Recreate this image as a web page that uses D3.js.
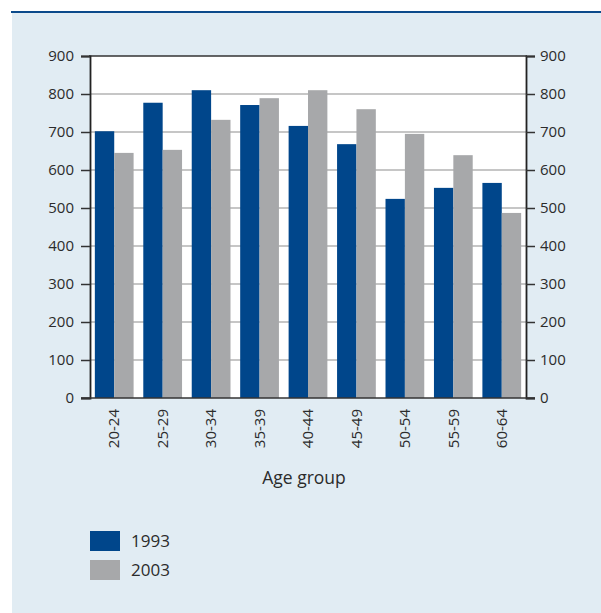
<!DOCTYPE html>
<html>
<head>
<meta charset="utf-8">
<script src="https://cdn.jsdelivr.net/npm/d3@7"></script>
<style>
  html, body { margin: 0; padding: 0; background: #ffffff; }
  svg { display: block; }
  text { font-family: "Open Sans", "Noto Sans", sans-serif; fill: #2b2b2b; }
</style>
</head>
<body>
<svg id="chart" width="601" height="613"></svg>
<script>
const categories = ["20-24","25-29","30-34","35-39","40-44","45-49","50-54","55-59","60-64"];
const values1993 = [702, 777, 810, 771, 716, 668, 524, 553, 566];
const values2003 = [645, 653, 732, 789, 810, 760, 695, 639, 487];
const seriesNames = ["1993", "2003"];
const seriesColors = ["#00468b", "#a7a8aa"];
const yTicks = [0, 100, 200, 300, 400, 500, 600, 700, 800, 900];
const xTitle = "Age group";

(function () {
const svg = d3.select("#chart");
const FONT = '"Open Sans", "Noto Sans", sans-serif';

// panel background and top rule
svg.append("rect").attr("x", 12).attr("y", 13).attr("width", 589).attr("height", 600).attr("fill", "#e1ecf3");
svg.append("rect").attr("x", 11).attr("y", 11).attr("width", 590).attr("height", 2).attr("fill", "#0b4a8b");

const pLeft = 90, pRight = 526, pTop = 56, pBottom = 398;

const y = d3.scaleLinear().domain([0, 900]).range([pBottom, pTop]);
const x0 = d3.scaleBand().domain(categories).range([pLeft, pRight]).paddingInner(0.2).paddingOuter(0.1);
const x1 = d3.scaleBand().domain(seriesNames).range([0, x0.bandwidth()]).padding(0);

// plot background
svg.append("rect").attr("x", pLeft).attr("y", pTop).attr("width", pRight - pLeft).attr("height", pBottom - pTop).attr("fill", "#ffffff");

// gridlines
svg.append("g").selectAll("line").data(yTicks.filter(d => d > 0 && d < 900)).join("line")
  .attr("x1", pLeft).attr("x2", pRight)
  .attr("y1", d => y(d)).attr("y2", d => y(d))
  .attr("stroke", "#c6c6c6").attr("stroke-width", 2);

// bars
const data = categories.map((c, i) => ({ cat: c, vals: [values1993[i], values2003[i]] }));
const groups = svg.append("g").selectAll("g").data(data).join("g")
  .attr("transform", d => `translate(${x0(d.cat)},0)`);
groups.selectAll("rect").data(d => d.vals.map((v, j) => ({ name: seriesNames[j], v, j }))).join("rect")
  .attr("x", d => x1(d.name))
  .attr("width", x1.bandwidth())
  .attr("y", d => y(d.v))
  .attr("height", d => y(0) - y(d.v))
  .attr("fill", d => seriesColors[d.j]);

// top frame line
svg.append("line").attr("x1", pLeft - 1).attr("x2", pRight + 1).attr("y1", pTop).attr("y2", pTop)
  .attr("stroke", "#333").attr("stroke-width", 1.5);

// axes
const yAxisL = d3.axisLeft(y).tickValues(yTicks).tickSize(9).tickPadding(7);
const yAxisR = d3.axisRight(y).tickValues(yTicks).tickSize(9).tickPadding(5);

const gL = svg.append("g").attr("transform", `translate(${pLeft},0)`).call(yAxisL);
const gR = svg.append("g").attr("transform", `translate(${pRight},0)`).call(yAxisR);
[gL, gR].forEach(g => {
  g.select(".domain").attr("stroke", "#222").attr("stroke-width", 1.8);
  g.selectAll(".tick line").attr("stroke", "#333").attr("stroke-width", 1.5);
  g.selectAll(".tick text").attr("font-size", 15).attr("fill", "#2b2b2b")
    .attr("font-family", FONT);
});

const xAxis = d3.axisBottom(x0).tickSize(0).tickPadding(0);
const gX = svg.append("g").attr("transform", `translate(0,${pBottom})`).call(xAxis);
gX.select(".domain").remove();
svg.append("line").attr("x1", pLeft - 9).attr("x2", pRight + 9).attr("y1", pBottom).attr("y2", pBottom)
  .attr("stroke", "#333").attr("stroke-width", 1.5);
gX.selectAll(".tick text")
  .attr("font-size", 15).attr("fill", "#2b2b2b")
  .attr("font-family", FONT)
  .attr("transform", "rotate(-90)")
  .attr("text-anchor", "end")
  .attr("x", -11).attr("y", 0).attr("dy", "0.35em");

// x title
svg.append("text").attr("x", 304).attr("y", 484)
  .attr("text-anchor", "middle").attr("font-size", 17.5).text(xTitle);

// legend
const legend = svg.append("g").selectAll("g").data(seriesNames).join("g")
  .attr("transform", (d, i) => `translate(90,${531 + i * 29})`);
legend.append("rect").attr("width", 30).attr("height", 20).attr("fill", (d, i) => seriesColors[i]);
legend.append("text").attr("x", 41).attr("y", 10).attr("dy", "0.36em").attr("font-size", 17).text(d => d);
})();
</script>
</body>
</html>
